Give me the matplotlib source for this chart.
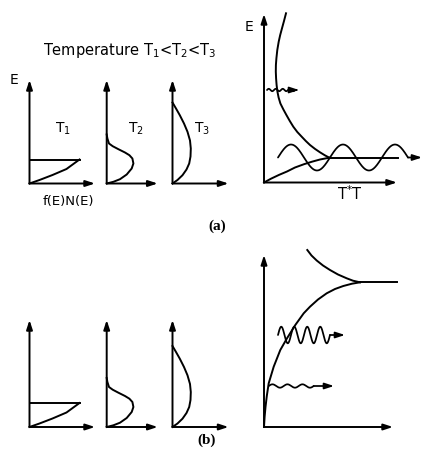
import numpy as np
import matplotlib
matplotlib.use("Agg")
import matplotlib.pyplot as plt

# f(E)N(E) sketches (f across, E up, arbitrary units)
t1_f = [0, 10, 23, 37, 50]
t1_E = [0, 3.5, 8.5, 14.5, 24]
t1_edge = 24

t2_f = [0, 6.7, 13.3, 20, 25, 26.7, 25.7, 22.7, 18.3, 11.7, 6, 2.3, 0.7, 0]
t2_E = [0, 1.7, 4.3, 9, 15, 20, 25, 28.3, 31, 34.3, 37.3, 40, 45, 49]

t3_f = [0, 5, 10, 14, 16.7, 18, 18.3, 17.5, 15, 11.5, 7.3, 3.5, 0]
t3_E = [0, 3.5, 8.3, 14, 20, 27, 35, 43, 51.7, 60, 68.3, 75, 81]

# (a) energy vs T*T
dec_a_x = [22, 20, 18, 16.2, 14.7, 13.3, 12.4, 11.9, 11.8, 12.1, 12.6, 13.4, 14.6, 16.4, 19.4,
           22.4, 25.8, 29.3, 33.3, 37.7, 41.8, 46, 51, 56, 60.7, 65.3]
dec_a_E = [169.2, 161.5, 154.2, 147.5, 140.8, 132.5, 124.2, 117.5, 110.8, 104, 97.5, 91,
           85, 79, 73, 67.5, 61.5, 55.8, 50.5, 45.8, 41.5, 37.5, 33.6, 30.2, 27.3, 24.8]
inc_a_x = [0, 7, 15, 23, 31, 40, 48, 56, 65.3]
inc_a_E = [0, 3.8, 7.6, 11, 15, 18.3, 20.8, 23, 24.8]
plateau_a = [65.3, 134]
level_a = 24.8

# (b)
inc_b_x = [0, 0.6, 1.5, 2.8, 4.7, 9.7, 16.3, 23, 31.3, 39.7, 46, 54, 62.7, 71, 79.3, 88, 96]
inc_b_E = [0, 10, 20, 31, 43.7, 60.3, 77, 88.7, 102, 113.7, 120.3, 127.5, 133.7, 138, 141, 143.3, 144.7]
dec_b_x = [43.3, 47.5, 52.7, 59, 66, 74, 82.7, 89, 96]
dec_b_E = [177, 171.5, 166.5, 161.5, 157, 152.5, 148.7, 146.3, 144.7]
plateau_b = [96, 133]
level_b = 144.7

# wavy arrows: (x start, x end of wave, arrow tip, centre E, amplitude, wavelength)
wave_a_big = (14, 144, 158, 25, 13, 52)
wave_a_small = (3, 31, 35, 92.5, 1.2, 7)
wave_b_big = (14, 66, 81, 92, 8.3, 13)
wave_b_small = (4.7, 49.7, 70, 41, 1.7, 15)

W, H = 422, 451
fig = plt.figure(figsize=(W / 100, H / 100), dpi=100)
LW = 1.4
arrow_kw = dict(arrowstyle='-|>,head_length=0.55,head_width=0.18', lw=LW, color='k',
                shrinkA=0, shrinkB=0, mutation_scale=10)


def px_axes(ox, oy, right, up, left=6, down=6):
    # axes where one data unit is one pixel, origin at pixel (ox, oy)
    ax = fig.add_axes([(ox - left) / W, (H - oy - down) / H, (left + right) / W, (down + up) / H])
    ax.set_xlim(-left, right)
    ax.set_ylim(-down, up)
    ax.set_axis_off()
    return ax


def draw_axes(ax, xlen, ylen):
    ax.annotate('', xy=(xlen, 0), xytext=(0, 0), arrowprops=arrow_kw)
    ax.annotate('', xy=(0, ylen), xytext=(0, 0), arrowprops=arrow_kw)


def wavy(ax, spec):
    x0, x1, tip, c, amp, lam = spec
    x = np.linspace(x0, x1, 300)
    y = c + amp * np.sin(2 * np.pi * (x - x0) / lam)
    ax.plot(x, y, color='k', lw=LW * 0.9, solid_capstyle='round')
    ax.annotate('', xy=(tip, c), xytext=(x1, c), arrowprops=dict(arrow_kw, lw=LW * 0.9))


def distributions(oy, ytop):
    for ox, xl, f, E in [(29.5, 65.5, t1_f, t1_E), (106.7, 51, t2_f, t2_E), (172.5, 56, t3_f, t3_E)]:
        ax = px_axes(ox, oy, xl + 6, ytop + 6)
        draw_axes(ax, xl, ytop)
        ax.plot(f, E, color='k', lw=LW, solid_joinstyle='round')
        if f is t1_f:
            ax.plot([0, t1_f[-1]], [t1_edge, t1_edge], color='k', lw=LW)


distributions(183.5, 103.5)
distributions(427, 107)

# right (a)
axa = px_axes(264, 182.5, 162, 175)
draw_axes(axa, 133, 168.5)
axa.plot(dec_a_x, dec_a_E, color='k', lw=LW, solid_joinstyle='round')
axa.plot(inc_a_x, inc_a_E, color='k', lw=LW, solid_joinstyle='round')
axa.plot(plateau_a, [level_a, level_a], color='k', lw=LW)
wavy(axa, wave_a_big)
wavy(axa, wave_a_small)

# right (b)
axb = px_axes(264, 427, 140, 182)
draw_axes(axb, 129, 172)
axb.plot(inc_b_x, inc_b_E, color='k', lw=LW, solid_joinstyle='round')
axb.plot(dec_b_x, dec_b_E, color='k', lw=LW, solid_joinstyle='round')
axb.plot(plateau_b, [level_b, level_b], color='k', lw=LW)
wavy(axb, wave_b_big)
wavy(axb, wave_b_small)


def label(x, y, s, **kw):
    fig.text(x / W, 1 - y / H, s, ha='center', va='center', **kw)


label(130, 50, 'Temperature T$_1$<T$_2$<T$_3$', fontsize=10.5)
label(14, 80, 'E', fontsize=10)
label(62.5, 129, 'T$_1$', fontsize=10)
label(136, 129, 'T$_2$', fontsize=10)
label(201.5, 129, 'T$_3$', fontsize=10)
label(68.3, 202, 'f(E)N(E)', fontsize=9.5)
label(249.5, 27, 'E', fontsize=10)
label(350, 194, 'T$^{*}$T', fontsize=10.5)
label(217, 226, '(a)', fontsize=11, fontweight='bold', family='Liberation Serif')
label(207, 440, '(b)', fontsize=11, fontweight='bold', family='Liberation Serif')

fig.savefig('out.png', dpi=100, facecolor='white')
